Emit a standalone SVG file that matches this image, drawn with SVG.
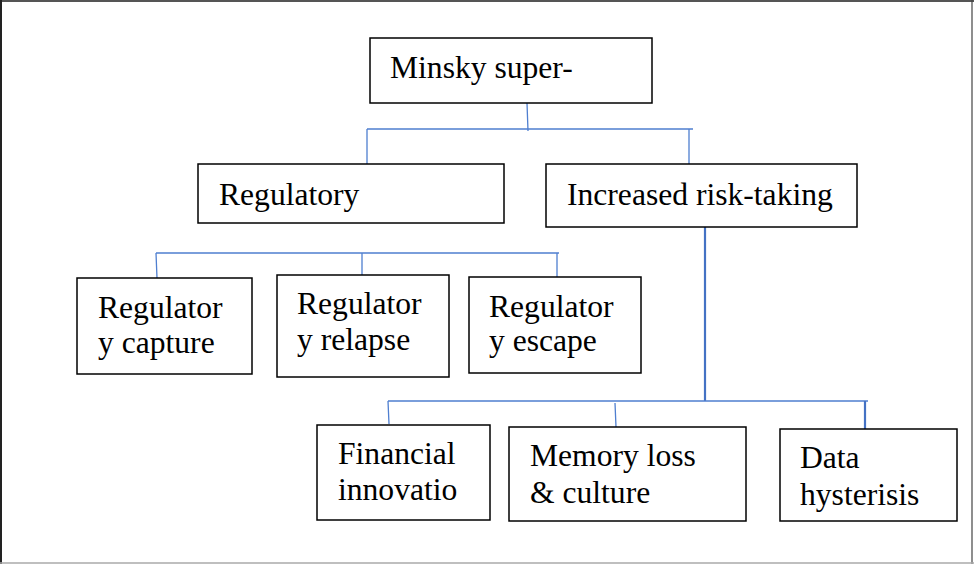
<svg xmlns="http://www.w3.org/2000/svg" width="974" height="564" viewBox="0 0 974 564">
<style>
.box{fill:#fff;stroke:#000;stroke-width:1.5}
.t{font-family:"Liberation Serif","Times New Roman",serif;font-size:31.6px;fill:#000}
.c{stroke:#4f7fd0;stroke-width:1.3;fill:none}
.ct{stroke:#4472c4;stroke-width:2.2;fill:none}
</style>
<rect width="974" height="564" fill="#fff"/>
<g id="frame">
<line x1="0" y1="1" x2="974" y2="1" stroke="#555" stroke-width="2"/>
<line x1="1" y1="0" x2="1" y2="564" stroke="#222" stroke-width="2"/>
<line x1="972" y1="0" x2="972" y2="564" stroke="#444" stroke-width="1.2"/>
<line x1="0" y1="563" x2="974" y2="563" stroke="#aaa" stroke-width="1.5"/>
</g>
<g id="connectors">
<path class="c" d="M527 103 L528 131 M367 129 H693 M367 129 V165 M689 129 V165"/>
<path class="c" d="M156 253 H559 M156 253 L157 278 M362 253 V275 M557 253 V279"/>
<path class="ct" d="M705 227 V401"/>
<path class="c" d="M388 401 H868 M388 401 L389 424 M615 403 L616 427"/>
<path class="ct" d="M865 401 V430"/>
</g>
<g id="minsky">
<rect class="box" x="370" y="38" width="282" height="65"/>
<text class="t" x="390" y="78">Minsky super-</text>
</g>
<g id="regulatory">
<rect class="box" x="198" y="164" width="306" height="59"/>
<text class="t" x="219" y="205">Regulatory</text>
</g>
<g id="risk">
<rect class="box" x="546" y="164" width="311" height="63"/>
<text class="t" x="567" y="205">Increased risk-taking</text>
</g>
<g id="capture">
<rect class="box" x="77" y="278" width="175" height="96"/>
<text class="t" x="98" y="318">Regulator</text>
<text class="t" x="98" y="353">y capture</text>
</g>
<g id="relapse">
<rect class="box" x="277" y="275" width="172" height="102"/>
<text class="t" x="297" y="314">Regulator</text>
<text class="t" x="297" y="350">y relapse</text>
</g>
<g id="escape">
<rect class="box" x="469" y="277" width="172" height="96"/>
<text class="t" x="489" y="317">Regulator</text>
<text class="t" x="489" y="351">y escape</text>
</g>
<g id="financial">
<rect class="box" x="317" y="425" width="173" height="95"/>
<text class="t" x="338" y="464">Financial</text>
<text class="t" x="338" y="500">innovatio</text>
</g>
<g id="memory">
<rect class="box" x="509" y="427" width="237" height="94"/>
<text class="t" x="530" y="466">Memory loss</text>
<text class="t" x="530" y="503">&amp; culture</text>
</g>
<g id="data">
<rect class="box" x="780" y="429" width="177" height="92"/>
<text class="t" x="800" y="468">Data</text>
<text class="t" x="800" y="505">hysterisis</text>
</g>
</svg>
